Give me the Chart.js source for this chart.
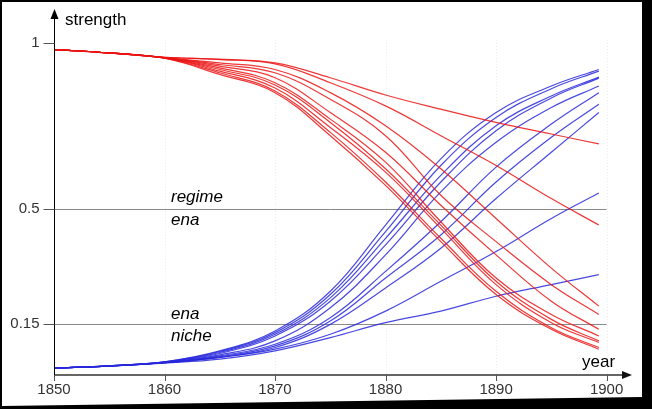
<!DOCTYPE html>
<html>
<head>
<meta charset="utf-8">
<script src="https://cdn.jsdelivr.net/npm/chart.js@4"></script>
<style>
  html, body { margin: 0; padding: 0; background: #000; }
  #wrap { width: 652px; height: 409px; position: relative; }
</style>
</head>
<body>
<div id="wrap"><canvas id="chart" width="652" height="409"></canvas></div>
<script>
// sample years for every curve (last point stops just short of 1900)
const years = [1850, 1855, 1860, 1865, 1870, 1875, 1880, 1885, 1890, 1895, 1899.3];

// regime curves (red), falling
const regime1  = [0.98, 0.97, 0.957, 0.951, 0.94, 0.895, 0.843, 0.80, 0.76, 0.725, 0.695];
const regime2  = [0.98, 0.97, 0.957, 0.95, 0.937, 0.88, 0.81, 0.72, 0.63, 0.53, 0.45];
const regime3  = [0.98, 0.97, 0.956, 0.94, 0.92, 0.85, 0.75, 0.62, 0.47, 0.32, 0.205];
const regime4  = [0.98, 0.97, 0.956, 0.935, 0.91, 0.83, 0.72, 0.54, 0.40, 0.27, 0.18];
const regime5  = [0.98, 0.97, 0.956, 0.93, 0.895, 0.79, 0.67, 0.51, 0.36, 0.22, 0.135];
const regime6  = [0.98, 0.97, 0.955, 0.925, 0.88, 0.77, 0.64, 0.46, 0.29, 0.18, 0.115];
const regime7  = [0.98, 0.97, 0.955, 0.92, 0.873, 0.76, 0.62, 0.45, 0.28, 0.165, 0.10];
const regime8  = [0.98, 0.97, 0.955, 0.915, 0.864, 0.745, 0.61, 0.44, 0.27, 0.155, 0.095];
const regime9  = [0.98, 0.97, 0.954, 0.91, 0.855, 0.73, 0.58, 0.41, 0.25, 0.14, 0.08];
const regime10 = [0.98, 0.97, 0.954, 0.905, 0.85, 0.72, 0.57, 0.40, 0.24, 0.135, 0.075];

// niche curves (blue), rising
const niche1  = [0.018, 0.025, 0.037, 0.07, 0.13, 0.25, 0.45, 0.65, 0.79, 0.87, 0.92];
const niche2  = [0.018, 0.025, 0.037, 0.068, 0.125, 0.24, 0.43, 0.63, 0.775, 0.862, 0.915];
const niche3  = [0.018, 0.025, 0.036, 0.065, 0.12, 0.23, 0.41, 0.60, 0.75, 0.84, 0.897];
const niche4  = [0.018, 0.025, 0.036, 0.062, 0.115, 0.22, 0.39, 0.58, 0.735, 0.834, 0.894];
const niche5  = [0.018, 0.024, 0.035, 0.058, 0.10, 0.20, 0.36, 0.55, 0.70, 0.805, 0.87];
const niche6  = [0.018, 0.024, 0.035, 0.055, 0.09, 0.17, 0.31, 0.46, 0.625, 0.755, 0.85];
const niche7  = [0.018, 0.024, 0.034, 0.052, 0.085, 0.16, 0.29, 0.42, 0.58, 0.715, 0.815];
const niche8  = [0.018, 0.024, 0.034, 0.05, 0.08, 0.15, 0.26, 0.38, 0.53, 0.67, 0.79];
const niche9  = [0.018, 0.024, 0.034, 0.05, 0.075, 0.12, 0.19, 0.28, 0.37, 0.47, 0.547];
const niche10 = [0.018, 0.024, 0.033, 0.045, 0.07, 0.11, 0.155, 0.19, 0.235, 0.27, 0.30];

const xTicks = [1850, 1860, 1870, 1880, 1890, 1900];
const yTicks = [1, 0.5, 0.15];
const yTickLabels = ['1', '0.5', '0.15'];
const gridValues = [0.5, 0.15];

const regimeSeries = [regime1, regime2, regime3, regime4, regime5, regime6, regime7, regime8, regime9, regime10];
const nicheSeries = [niche1, niche2, niche3, niche4, niche5, niche6, niche7, niche8, niche9, niche10];

function toPoints(vals) {
    return years.map(function(yr, i) { return { x: yr, y: vals[i] }; });
}

function makeSet(vals, color) {
    return {
        data: toPoints(vals),
        borderColor: color,
        borderWidth: 1.2,
        pointRadius: 0,
        fill: false,
        tension: 0.4
    };
}

const datasets = [];
regimeSeries.forEach(function(s) { datasets.push(makeSet(s, 'rgba(235,20,20,0.85)')); });
nicheSeries.forEach(function(s) { datasets.push(makeSet(s, 'rgba(40,40,220,0.85)')); });

const decorPlugin = {
    id: 'decor',
    beforeDraw: function(chart) {
        const ctx = chart.ctx;
        ctx.save();
        ctx.fillStyle = '#000';
        ctx.fillRect(0, 0, 652, 409);
        ctx.fillStyle = '#fff';
        ctx.beginPath();
        ctx.moveTo(2, 2);
        ctx.lineTo(642, 2);
        ctx.lineTo(642, 397);
        ctx.lineTo(2, 406);
        ctx.closePath();
        ctx.fill();
        ctx.restore();
    },
    beforeDatasetsDraw: function(chart) {
        const ctx = chart.ctx;
        const xs = chart.scales.x, ys = chart.scales.y;
        const x0 = xs.getPixelForValue(1850);
        const xEnd = xs.getPixelForValue(1900);
        const yBase = ys.getPixelForValue(ys.min);
        ctx.save();
        // faint vertical guides
        ctx.strokeStyle = '#ececec';
        ctx.lineWidth = 1;
        ctx.setLineDash([1, 2]);
        xTicks.slice(1).forEach(function(t) {
            const px = Math.round(xs.getPixelForValue(t)) + 0.5;
            ctx.beginPath();
            ctx.moveTo(px, 40);
            ctx.lineTo(px, yBase);
            ctx.stroke();
        });
        ctx.setLineDash([]);
        // horizontal grid lines
        ctx.strokeStyle = '#8a8a8a';
        gridValues.forEach(function(v) {
            const py = Math.round(ys.getPixelForValue(v)) + 0.5;
            ctx.beginPath();
            ctx.moveTo(x0, py);
            ctx.lineTo(xEnd, py);
            ctx.stroke();
        });
        ctx.restore();
    },
    afterDatasetsDraw: function(chart) {
        const ctx = chart.ctx;
        const xs = chart.scales.x, ys = chart.scales.y;
        const x0 = Math.round(xs.getPixelForValue(1850)) + 0.5;
        const yBase = Math.round(ys.getPixelForValue(ys.min));
        ctx.save();
        // x axis
        ctx.strokeStyle = '#666';
        ctx.lineWidth = 2;
        ctx.beginPath();
        ctx.moveTo(x0, yBase);
        ctx.lineTo(626, yBase);
        ctx.stroke();
        ctx.fillStyle = '#111';
        ctx.beginPath();
        ctx.moveTo(632, yBase);
        ctx.lineTo(622, yBase - 4);
        ctx.lineTo(622, yBase + 4);
        ctx.closePath();
        ctx.fill();
        // x ticks
        ctx.lineWidth = 1;
        ctx.strokeStyle = '#555';
        xTicks.forEach(function(t) {
            const px = Math.round(xs.getPixelForValue(t)) + 0.5;
            ctx.beginPath();
            ctx.moveTo(px, yBase);
            ctx.lineTo(px, yBase + 6);
            ctx.stroke();
        });
        // y axis
        ctx.strokeStyle = '#000';
        ctx.lineWidth = 1;
        ctx.beginPath();
        ctx.moveTo(x0, yBase);
        ctx.lineTo(x0, 16);
        ctx.stroke();
        ctx.fillStyle = '#000';
        ctx.beginPath();
        ctx.moveTo(x0, 9);
        ctx.lineTo(x0 - 4, 19);
        ctx.lineTo(x0 + 4, 19);
        ctx.closePath();
        ctx.fill();
        // y ticks
        ctx.strokeStyle = '#555';
        yTicks.forEach(function(v) {
            const py = Math.round(ys.getPixelForValue(v)) + 0.5;
            ctx.beginPath();
            ctx.moveTo(x0 - 11, py);
            ctx.lineTo(x0, py);
            ctx.stroke();
        });
        // tick labels
        ctx.fillStyle = '#333';
        ctx.font = '15px "Liberation Sans", Arial, sans-serif';
        ctx.textBaseline = 'middle';
        ctx.textAlign = 'right';
        yTicks.forEach(function(v, i) {
            ctx.fillText(yTickLabels[i], x0 - 15, ys.getPixelForValue(v));
        });
        ctx.textAlign = 'center';
        xTicks.forEach(function(t) {
            ctx.fillText(String(t), xs.getPixelForValue(t), 390);
        });
        // axis titles
        ctx.fillStyle = '#000';
        ctx.font = '17px "Liberation Sans", Arial, sans-serif';
        ctx.textAlign = 'left';
        ctx.fillText('strength', 65, 20);
        ctx.fillText('year', 582, 362);
        // curve notes
        ctx.font = 'italic 17px "Liberation Sans", Arial, sans-serif';
        ctx.fillText('regime', 171, 197);
        ctx.fillText('ena', 171, 220);
        ctx.fillText('ena', 171, 314);
        ctx.fillText('niche', 171, 336);
        ctx.restore();
    }
};

new Chart(document.getElementById('chart').getContext('2d'), {
    type: 'line',
    data: { datasets: datasets },
    options: {
        responsive: false,
        animation: false,
        events: [],
        layout: { padding: { left: 54, top: 10, right: 20, bottom: 34 } },
        plugins: { legend: { display: false }, tooltip: { enabled: false } },
        scales: {
            x: { type: 'linear', min: 1850, max: 1902.3, display: false },
            y: { type: 'linear', min: -0.003, max: 1.0997, display: false }
        }
    },
    plugins: [decorPlugin]
});
</script>
</body>
</html>
